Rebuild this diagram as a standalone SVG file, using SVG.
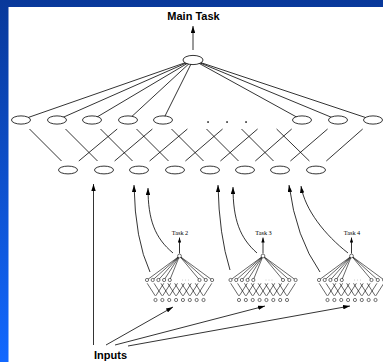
<svg xmlns="http://www.w3.org/2000/svg" width="383" height="362" viewBox="0 0 383 362">
<defs>
  <linearGradient id="frame" x1="0" y1="0" x2="0" y2="1">
    <stop offset="0" stop-color="#08389a"/>
    <stop offset="1" stop-color="#1268ff"/>
  </linearGradient>
  <marker id="head" viewBox="0 0 7 4.4" refX="7" refY="2.2" markerWidth="7" markerHeight="4.4" markerUnits="userSpaceOnUse" orient="auto">
    <path d="M0,0 L7,2.2 L0,4.4 Z" fill="#000"/>
  </marker>
  <marker id="headSm" viewBox="0 0 5 3.4" refX="5" refY="1.7" markerWidth="5" markerHeight="3.4" markerUnits="userSpaceOnUse" orient="auto">
    <path d="M0,0 L5,1.7 L0,3.4 Z" fill="#000"/>
  </marker>
  <!-- small auxiliary network, origin at its output unit -->
  <g id="subnet">
    <path class="thin" d="M0,0 L-32.5,24 M0,0 L-26.8,24 M0,0 L-21.1,24 M0,0 L-15.4,24 M0,0 L-9.7,24 M0,0 L20,24 M0,0 L26.3,24 M0,0 L32.6,24"/>
    <path class="thin" d="M-32.3,27.3 L-24.3,39.8 M-15.7,27.3 L-23.7,39.8
      M-25.44,27.3 L-17.44,39.8 M-8.84,27.3 L-16.84,39.8
      M-18.58,27.3 L-10.58,39.8 M-1.98,27.3 L-9.98,39.8
      M-11.72,27.3 L-3.72,39.8 M4.88,27.3 L-3.12,39.8
      M-4.86,27.3 L3.14,39.8 M11.74,27.3 L3.74,39.8
      M2,27.3 L10,39.8 M18.6,27.3 L10.6,39.8
      M8.86,27.3 L16.86,39.8 M25.46,27.3 L17.46,39.8
      M15.72,27.3 L23.72,39.8 M32.32,27.3 L24.32,39.8"/>
    <circle class="sn" cx="0" cy="0" r="1.9"/>
    <g class="sn">
      <circle cx="-32.5" cy="24" r="1.6"/><circle cx="-26.8" cy="24" r="1.6"/><circle cx="-21.1" cy="24" r="1.6"/>
      <circle cx="-15.4" cy="24" r="1.6"/><circle cx="-9.7" cy="24" r="1.6"/>
      <circle cx="20" cy="24" r="1.6"/><circle cx="26.3" cy="24" r="1.6"/><circle cx="32.6" cy="24" r="1.6"/>
    </g>
    <g fill="#999"><circle cx="3" cy="24" r="0.45"/><circle cx="6" cy="24" r="0.45"/><circle cx="9" cy="24" r="0.45"/></g>
    <g class="sn">
      <circle cx="-24" cy="44" r="1.6"/><circle cx="-17.14" cy="44" r="1.6"/><circle cx="-10.28" cy="44" r="1.6"/>
      <circle cx="-3.42" cy="44" r="1.6"/><circle cx="3.44" cy="44" r="1.6"/><circle cx="10.3" cy="44" r="1.6"/>
      <circle cx="17.16" cy="44" r="1.6"/><circle cx="24.02" cy="44" r="1.6"/>
    </g>
  </g>
</defs>
<style>
  .ln{stroke:#000;stroke-width:0.8;fill:none}
  .thin{stroke:#000;stroke-width:0.6;fill:none}
  .nd{fill:#fff;stroke:#000;stroke-width:0.8}
  .sn{fill:#fff;stroke:#000;stroke-width:0.55}
  .lbl{font-family:"Liberation Sans",Arial,sans-serif;font-weight:bold;font-size:11px;fill:#000}
  .tl{font-family:"Liberation Serif","Times New Roman",serif;font-size:6.3px;fill:#000}
</style>

<!-- slide frame -->
<rect x="0" y="0" width="383" height="362" fill="url(#frame)"/>
<rect x="8.5" y="7" width="374.5" height="355" fill="#fff"/>

<!-- connectors -->
<g id="connectors">
  <!-- output to first hidden layer -->
  <path class="ln" d="M193,60 L21,120 M193,60 L57,120 M193,60 L92,120 M193,60 L128,120 M193,60 L163,120 M193,60 L302,120 M193,60 L338,120 M193,60 L373,120"/>
  <!-- first to second hidden layer -->
  <path class="ln" d="M29.5,129 L61.5,161 M65.5,129 L97.5,161 M100.5,129 L132.5,161 M136.5,129 L168.5,161
    M171.5,129 L203.5,161 M206.5,129 L238.5,161 M241.5,129 L273.5,161 M276.6,129 L309.4,161
    M117.2,129 L78.8,161 M152.4,129 L114.6,161 M187.4,129 L149.6,161 M222.6,129 L185.4,161
    M257.6,129 L220.4,161 M291.7,129 L255.3,161 M327.6,129 L290.4,161 M362.7,129 L326.3,161"/>
  <!-- main output arrow -->
  <path class="ln" d="M193,50 L193,26" marker-end="url(#head)"/>
  <!-- input arrows into the main net -->
  <path class="ln" d="M93.5,345 L93.5,184" marker-end="url(#head)"/>
  <path class="ln" d="M106,345 L173,307" marker-end="url(#head)"/>
  <path class="ln" d="M115,345 L265,306" marker-end="url(#head)"/>
  <path class="ln" d="M128,346 L350,306" marker-end="url(#head)"/>
  <!-- auxiliary nets feeding back -->
  <path class="ln" d="M150,272 Q135,240 134,185" marker-end="url(#head)"/>
  <path class="ln" d="M173,253 C155,238 148,220 148,188" marker-end="url(#head)"/>
  <path class="ln" d="M230,270 Q219,235 218,185" marker-end="url(#head)"/>
  <path class="ln" d="M257,253 C240,238 233,220 233,187" marker-end="url(#head)"/>
  <path class="ln" d="M320,272 Q296,238 289,185" marker-end="url(#head)"/>
  <path class="ln" d="M348,253 C325,235 305,210 301,186" marker-end="url(#head)"/>
  <!-- auxiliary task outputs -->
  <path class="ln" d="M179.5,253.5 L179.5,237.5" marker-end="url(#headSm)"/>
  <path class="ln" d="M263,253.5 L263,237.5" marker-end="url(#headSm)"/>
  <path class="ln" d="M351.5,253.5 L351.5,237.5" marker-end="url(#headSm)"/>
</g>

<!-- main output unit -->
<g id="out-main"><ellipse class="nd" cx="193" cy="60" rx="10" ry="4.6"/></g>

<!-- first hidden layer -->
<g id="h1-1"><ellipse class="nd" cx="21" cy="120" rx="9.5" ry="4.1"/></g>
<g id="h1-2"><ellipse class="nd" cx="57" cy="120" rx="9.5" ry="4.1"/></g>
<g id="h1-3"><ellipse class="nd" cx="92" cy="120" rx="9.5" ry="4.1"/></g>
<g id="h1-4"><ellipse class="nd" cx="128" cy="120" rx="9.5" ry="4.1"/></g>
<g id="h1-5"><ellipse class="nd" cx="163" cy="120" rx="9.5" ry="4.1"/></g>
<g id="h1-gap" fill="#000"><rect x="207.3" y="121.3" width="1.5" height="1.5"/><rect x="226.3" y="121.3" width="1.5" height="1.5"/><rect x="245.3" y="121.3" width="1.5" height="1.5"/></g>
<g id="h1-9"><ellipse class="nd" cx="302" cy="120" rx="9.5" ry="4.1"/></g>
<g id="h1-10"><ellipse class="nd" cx="338" cy="120" rx="9.5" ry="4.1"/></g>
<g id="h1-11"><ellipse class="nd" cx="373" cy="120" rx="9.5" ry="4.1"/></g>

<!-- second hidden layer -->
<g id="h2-1"><ellipse class="nd" cx="68" cy="170" rx="9.5" ry="3.9"/></g>
<g id="h2-2"><ellipse class="nd" cx="104" cy="170" rx="9.5" ry="3.9"/></g>
<g id="h2-3"><ellipse class="nd" cx="139" cy="170" rx="9.5" ry="3.9"/></g>
<g id="h2-4"><ellipse class="nd" cx="175" cy="170" rx="9.5" ry="3.9"/></g>
<g id="h2-5"><ellipse class="nd" cx="210" cy="170" rx="9.5" ry="3.9"/></g>
<g id="h2-6"><ellipse class="nd" cx="245" cy="170" rx="9.5" ry="3.9"/></g>
<g id="h2-7"><ellipse class="nd" cx="280" cy="170" rx="9.5" ry="3.9"/></g>
<g id="h2-8"><ellipse class="nd" cx="316" cy="170" rx="9.5" ry="3.9"/></g>

<!-- auxiliary task networks -->
<g id="task2-net"><use href="#subnet" transform="translate(179.5,256)"/><text class="tl" x="180" y="234.5" text-anchor="middle">Task 2</text></g>
<g id="task3-net"><use href="#subnet" transform="translate(263,256)"/><text class="tl" x="263.5" y="234.5" text-anchor="middle">Task 3</text></g>
<g id="task4-net"><use href="#subnet" transform="translate(351.5,256)"/><text class="tl" x="352" y="234.5" text-anchor="middle">Task 4</text></g>

<!-- labels -->
<g id="label-main"><text class="lbl" x="193.5" y="19.5" text-anchor="middle">Main Task</text></g>
<g id="label-inputs"><text class="lbl" x="94" y="359">Inputs</text></g>
</svg>
